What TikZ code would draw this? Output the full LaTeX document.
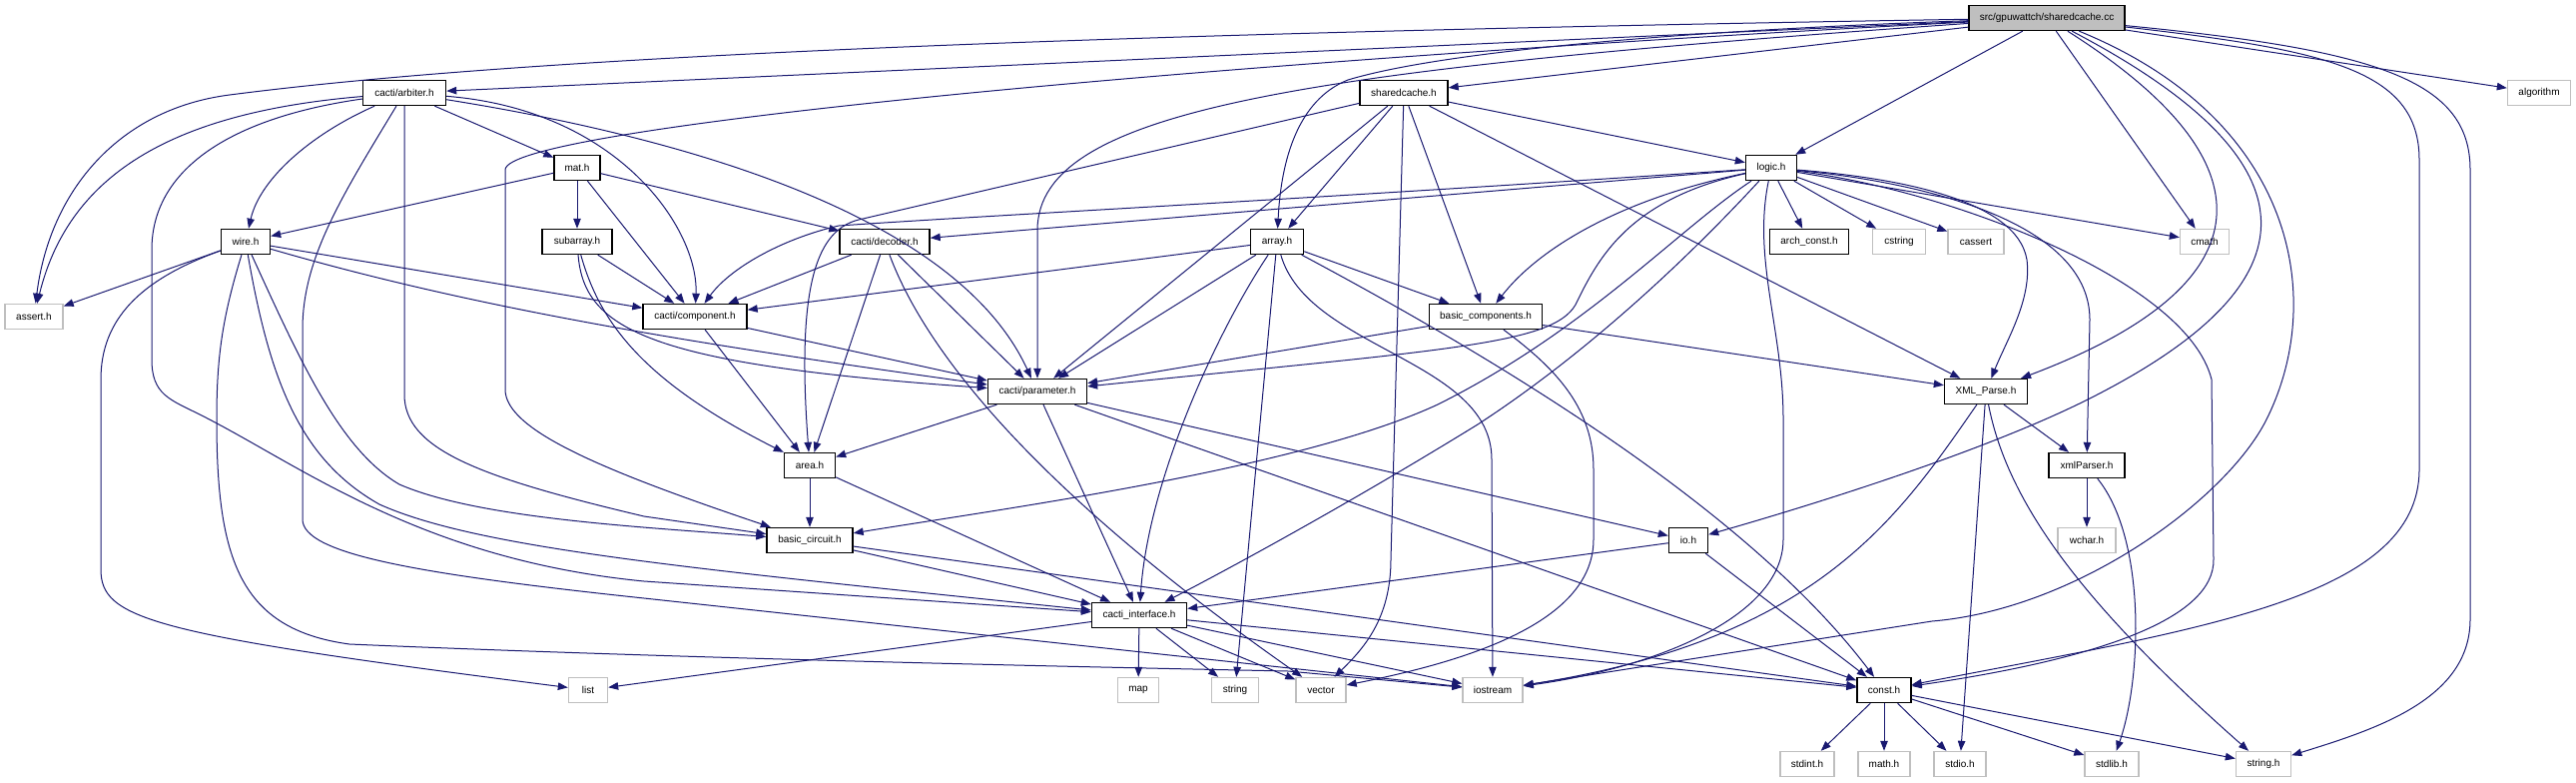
\documentclass[tikz,border=0pt]{standalone}
\usepackage{fontspec}
\setmainfont{Liberation Sans}
\usepackage{tikz}
\usetikzlibrary{
	arrows.meta
}
\definecolor{EdgeBlue}{RGB}{25,25,112}
\definecolor{SysGrey}{RGB}{191,191,191}
\definecolor{FileGrey}{RGB}{191,191,191}

\begin{document}
\begin{tikzpicture}[
	x=1pt,
	y=-1pt,
	every node/.style={
		font=\fontsize{10}{12}\selectfont,
		minimum height=25pt,
		inner sep=0pt
	},
	hdr/.style={
		draw=black,
		line width=1.4pt,
		fill=white,
		minimum width=#1
	},
	sys/.style={
		draw=SysGrey,
		line width=1.4pt,
		fill=white,
		minimum width=#1
	},
	srcfile/.style={
		draw=black,
		line width=1.4pt,
		fill=FileGrey,
		minimum width=#1
	},
	dep/.style={
		EdgeBlue,
		line width=1pt,
		-{Triangle[length=10pt,width=7.5pt]}
	}
	]
	
	\useasboundingbox (0,0) rectangle (2580,784);
	
	\node[srcfile=156pt] (SRC) at (2050,18) {src/gpuwattch/sharedcache.cc};
	\node[hdr=83pt] (ARB) at (405,93) {cacti/arbiter.h};
	\node[hdr=88pt] (SCH) at (1406,93) {sharedcache.h};
	\node[sys=63pt] (ALG) at (2543,93) {algorithm};
	\node[hdr=46pt] (MAT) at (578,168) {mat.h};
	\node[hdr=51pt] (LOG) at (1774,168) {logic.h};
	\node[hdr=49pt] (WIRE) at (246,242) {wire.h};
	\node[hdr=70pt] (SUB) at (578,242) {subarray.h};
	\node[hdr=90pt] (DEC) at (886,242) {cacti/decoder.h};
	\node[hdr=53pt] (ARR) at (1279,242) {array.h};
	\node[hdr=79pt] (ARCH) at (1812,242) {arch\_const.h};
	\node[sys=53pt] (CSTR) at (1902,242) {cstring};
	\node[sys=56pt] (CASS) at (1979,242) {cassert};
	\node[sys=49pt] (CMATH) at (2208,242) {cmath};
	\node[sys=58pt] (ASRT) at (34,317) {assert.h};
	\node[hdr=104pt] (COMP) at (696,317) {cacti/component.h};
	\node[hdr=113pt] (BCOMP) at (1488,317) {basic\_components.h};
	\node[hdr=99pt] (PAR) at (1039,392) {cacti/parameter.h};
	\node[hdr=83pt] (XML) at (1989,392) {XML\_Parse.h};
	\node[hdr=51pt] (AREA) at (811,466) {area.h};
	\node[hdr=76pt] (XMLP) at (2090,466) {xmlParser.h};
	\node[hdr=86pt] (BCIRC) at (811,541) {basic\_circuit.h};
	\node[hdr=39pt] (IO) at (1691,541) {io.h};
	\node[sys=58pt] (WCH) at (2090,541) {wchar.h};
	\node[hdr=95pt] (CI) at (1141,616) {cacti\_interface.h};
	\node[sys=39pt] (LIST) at (589,691) {list};
	\node[sys=41pt] (MAP) at (1140,691) {map};
	\node[sys=47pt] (STR) at (1237,691) {string};
	\node[sys=50pt] (VEC) at (1323,691) {vector};
	\node[sys=60pt] (IOS) at (1495,691) {iostream};
	\node[hdr=54pt] (CONST) at (1887,691) {const.h};
	\node[sys=54pt] (STDINT) at (1810,765) {stdint.h};
	\node[sys=52pt] (MATHH) at (1887,765) {math.h};
	\node[sys=52pt] (STDIO) at (1963,765) {stdio.h};
	\node[sys=54pt] (STDLIB) at (2115,765) {stdlib.h};
	\node[sys=55pt] (STRH) at (2267,765) {string.h};
	
	\draw[dep] (SRC) .. controls (1000,35) and (500,60) .. (230,95) .. controls (120,109) and (50,190) .. (ASRT);
	\draw[dep] (SRC) -- (ARB);
	\draw[dep] (SRC) .. controls (1200,62) and (506,128) .. (506,170) -- (506,390) .. controls (506,430) and (600,470) .. (BCIRC);
	\draw[dep] (SRC) .. controls (1300,70) and (1040,110) .. (1039,230) -- (PAR);
	\draw[dep] (SRC) -- (SCH);
	\draw[dep] (SRC) .. controls (1700,30) and (1450,50) .. (1350,80) .. controls (1300,100) and (1283,160) .. (ARR);
	\draw[dep] (SRC) -- (LOG);
	\draw[dep] (SRC) -- (CMATH);
	\draw[dep] (SRC) -- (ALG);
	\draw[dep] (SRC) .. controls (2290,170) and (2260,290) .. (XML);
	\draw[dep] (SRC) .. controls (2340,170) and (2310,290) .. (2091,400) .. controls (1981,455) and (1800,510) .. (IO);
	\draw[dep] (SRC) .. controls (2300,120) and (2330,300) .. (2270,420) .. controls (2230,500) and (2080,610) .. (1935,622) -- (IOS);
	\draw[dep] (SRC) .. controls (2330,50) and (2423,70) .. (2423,160) -- (2423,470) .. controls (2423,600) and (2200,630) .. (CONST);
	\draw[dep] (SRC) .. controls (2380,50) and (2474,80) .. (2474,170) -- (2474,620) .. controls (2474,700) and (2380,730) .. (STRH);
	
	\draw[dep] (ARB) .. controls (180,112) and (70,170) .. (ASRT);
	\draw[dep] (ARB) .. controls (230,118) and (152,170) .. (152,250) -- (152,360) .. controls (152,395) and (170,400) .. (200,415) .. controls (300,465) and (420,560) .. (645,582) -- (CI);
	\draw[dep] (ARB) .. controls (310,135) and (260,180) .. (WIRE);
	\draw[dep] (ARB) .. controls (340,200) and (303,260) .. (303,330) -- (303,520) .. controls (303,555) and (420,575) .. (645,599) -- (IOS);
	\draw[dep] (ARB) -- (405,395) .. controls (405,450) and (480,478) .. (645,517) -- (BCIRC);
	\draw[dep] (ARB) -- (MAT);
	\draw[dep] (ARB) .. controls (620,110) and (700,230) .. (COMP);
	\draw[dep] (ARB) .. controls (700,140) and (960,220) .. (PAR);
	
	\draw[dep] (MAT) -- (WIRE);
	\draw[dep] (MAT) -- (SUB);
	\draw[dep] (MAT) -- (COMP);
	\draw[dep] (MAT) -- (DEC);
	
	\draw[dep] (WIRE) -- (ASRT);
	\draw[dep] (WIRE) -- (COMP);
	\draw[dep] (WIRE) .. controls (480,310) and (700,345) .. (PAR);
	\draw[dep] (WIRE) .. controls (140,280) and (101,320) .. (101,380) -- (101,570) .. controls (101,620) and (150,635) .. (LIST);
	\draw[dep] (WIRE) .. controls (222,320) and (217,360) .. (217,420) .. controls (217,560) and (240,630) .. (350,645) .. controls (700,660) and (1100,668) .. (1290,672) -- (IOS);
	\draw[dep] (WIRE) .. controls (300,360) and (340,450) .. (400,485) .. controls (480,520) and (650,528) .. (BCIRC);
	\draw[dep] (WIRE) .. controls (270,380) and (300,460) .. (380,505) .. controls (480,550) and (700,570) .. (CI);
	
	\draw[dep] (SUB) -- (COMP);
	\draw[dep] (SUB) .. controls (585,330) and (650,365) .. (PAR);
	\draw[dep] (SUB) .. controls (600,320) and (640,380) .. (AREA);
	
	\draw[dep] (COMP) -- (PAR);
	\draw[dep] (COMP) -- (AREA);
	
	\draw[dep] (DEC) -- (COMP);
	\draw[dep] (DEC) -- (AREA);
	\draw[dep] (DEC) .. controls (930,360) and (1050,500) .. (VEC);
	\draw[dep] (DEC) -- (PAR);
	
	\draw[dep] (ARR) -- (COMP);
	\draw[dep] (ARR) -- (PAR);
	\draw[dep] (ARR) -- (BCOMP);
	\draw[dep] (ARR) .. controls (1220,330) and (1150,480) .. (CI);
	\draw[dep] (ARR) -- (STR);
	\draw[dep] (ARR) .. controls (1310,350) and (1494,360) .. (1494,460) -- (IOS);
	\draw[dep] (ARR) .. controls (1500,360) and (1750,510) .. (CONST);
	
	\draw[dep] (SCH) -- (ARR);
	\draw[dep] (SCH) -- (PAR);
	\draw[dep] (SCH) -- (1393,560) .. controls (1393,620) and (1365,650) .. (VEC);
	\draw[dep] (SCH) -- (BCOMP);
	\draw[dep] (SCH) -- (XML);
	\draw[dep] (SCH) -- (LOG);
	\draw[dep] (SCH) -- (860,220) .. controls (820,230) and (797,280) .. (AREA);
	
	\draw[dep] (LOG) -- (DEC);
	\draw[dep] (LOG) .. controls (1300,200) and (1000,215) .. (840,226) .. controls (780,240) and (730,270) .. (COMP);
	\draw[dep] (LOG) .. controls (1620,200) and (1540,250) .. (BCOMP);
	\draw[dep] (LOG) .. controls (1630,200) and (1600,260) .. (1578,305) .. controls (1555,345) and (1450,350) .. (PAR);
	\draw[dep] (LOG) .. controls (1680,270) and (1580,360) .. (1480,425) .. controls (1350,505) and (1230,570) .. (CI);
	\draw[dep] (LOG) .. controls (1680,230) and (1590,330) .. (1440,405) .. controls (1300,470) and (1000,510) .. (BCIRC);
	\draw[dep] (LOG) .. controls (1755,260) and (1786,330) .. (1786,420) -- (1786,540) .. controls (1786,620) and (1650,670) .. (IOS);
	\draw[dep] (LOG) -- (ARCH);
	\draw[dep] (LOG) -- (CSTR);
	\draw[dep] (LOG) -- (CASS);
	\draw[dep] (LOG) -- (CMATH);
	\draw[dep] (LOG) .. controls (1900,178) and (2020,200) .. (2030,260) .. controls (2035,300) and (2010,340) .. (XML);
	\draw[dep] (LOG) .. controls (1950,185) and (2093,230) .. (2093,320) -- (XMLP);
	\draw[dep] (LOG) .. controls (1950,190) and (2190,280) .. (2215,380) -- (2217,560) .. controls (2218,620) and (2100,660) .. (CONST);
	
	\draw[dep] (BCOMP) -- (PAR);
	\draw[dep] (BCOMP) -- (XML);
	\draw[dep] (BCOMP) .. controls (1560,370) and (1596,410) .. (1596,470) -- (1596,540) .. controls (1596,620) and (1480,660) .. (VEC);
	
	\draw[dep] (PAR) -- (AREA);
	\draw[dep] (PAR) -- (CI);
	\draw[dep] (PAR) -- (CONST);
	\draw[dep] (PAR) -- (IO);
	
	\draw[dep] (XML) -- (XMLP);
	\draw[dep] (XML) -- (STDIO);
	\draw[dep] (XML) .. controls (2010,500) and (2080,600) .. (STRH);
	\draw[dep] (XML) .. controls (1900,520) and (1820,640) .. (IOS);
	
	\draw[dep] (XMLP) -- (WCH);
	\draw[dep] (XMLP) .. controls (2150,540) and (2145,680) .. (STDLIB);
	
	\draw[dep] (AREA) -- (BCIRC);
	\draw[dep] (AREA) -- (CI);
	
	\draw[dep] (BCIRC) -- (CI);
	\draw[dep] (BCIRC) -- (CONST);
	
	\draw[dep] (CI) -- (LIST);
	\draw[dep] (CI) -- (MAP);
	\draw[dep] (CI) -- (STR);
	\draw[dep] (CI) -- (VEC);
	\draw[dep] (CI) -- (IOS);
	\draw[dep] (CI) -- (CONST);
	
	\draw[dep] (IO) -- (CI);
	\draw[dep] (IO) -- (CONST);
	
	\draw[dep] (CONST) -- (STDINT);
	\draw[dep] (CONST) -- (MATHH);
	\draw[dep] (CONST) -- (STDIO);
	\draw[dep] (CONST) -- (STDLIB);
	\draw[dep] (CONST) -- (STRH);
	
\end{tikzpicture}
\end{document}
